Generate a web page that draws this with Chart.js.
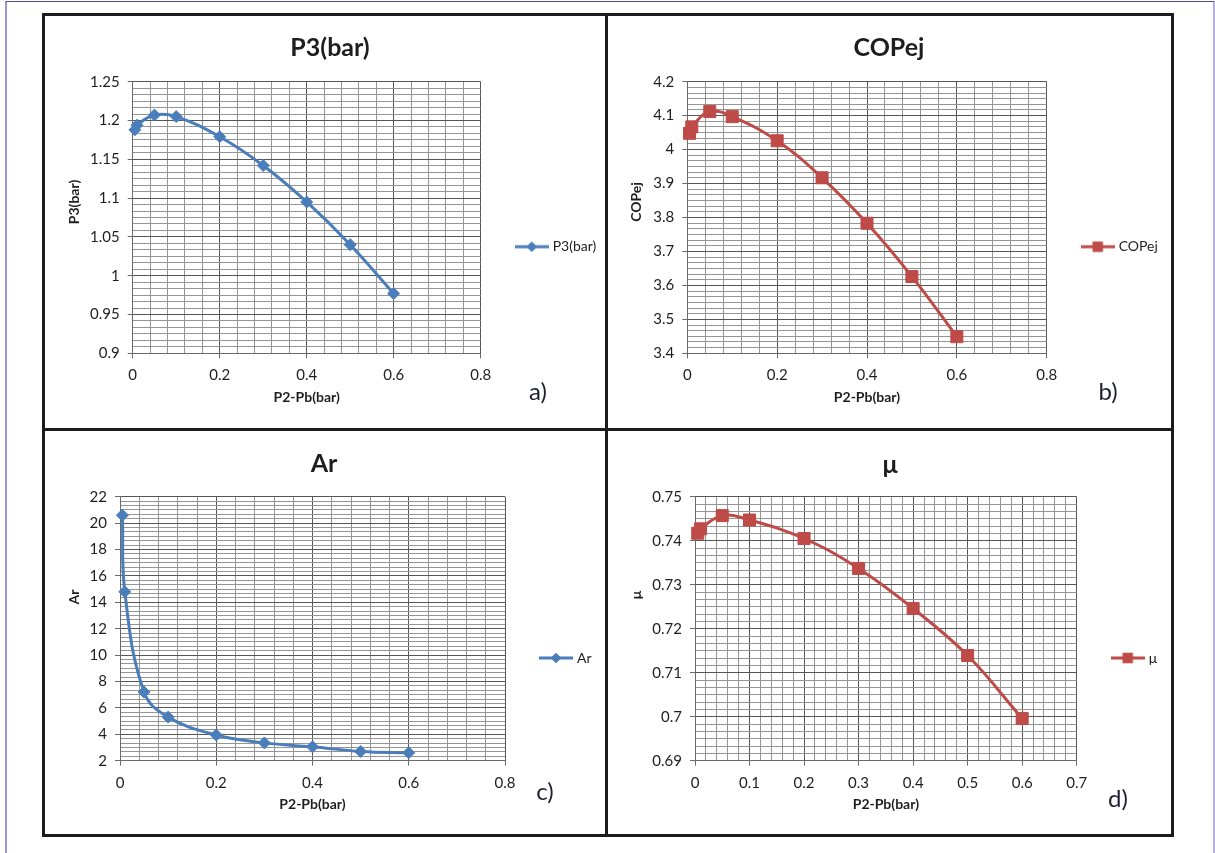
<!DOCTYPE html>
<html>
<head>
<meta charset="utf-8">
<script src="https://cdn.jsdelivr.net/npm/chart.js@4.4.1/dist/chart.umd.min.js"></script>
<style>
  body { margin: 0; width: 1215px; height: 853px; position: relative; background: #fff; overflow: hidden;
         font-family: Lato, "Open Sans", sans-serif; color: #1e1e1e; }
  canvas { position: absolute; }
  .box { position: absolute; }
  .t { position: absolute; transform: translate(-50%, -50%); white-space: nowrap; }
  .title { font-weight: bold; font-size: 25px; }
  .ytitle { font-weight: bold; font-size: 14px; transform: translate(-50%, -50%) rotate(-90deg); }
  .tag { font-size: 24px; color: #1f1f33; }
</style>
</head>
<body>
<canvas id="cA" width="558" height="411" style="left:46px;top:16px"></canvas>
<canvas id="cB" width="563" height="411" style="left:608px;top:16px"></canvas>
<canvas id="cC" width="558" height="403" style="left:46px;top:431px"></canvas>
<canvas id="cD" width="563" height="403" style="left:608px;top:431px"></canvas>

<div class="t title" style="left:330px;top:46px">P3(bar)</div>
<div class="t title" style="left:889px;top:46px">COPej</div>
<div class="t title" style="left:324px;top:462px">Ar</div>
<div class="t title" style="left:890px;top:463px">μ</div>

<div class="t ytitle" style="left:73px;top:202px">P3(bar)</div>
<div class="t ytitle" style="left:635px;top:202px">COPej</div>
<div class="t ytitle" style="left:73px;top:597px">Ar</div>
<div class="t ytitle" style="left:635px;top:595px">μ</div>

<div class="t tag" style="left:538px;top:390px">a)</div>
<div class="t tag" style="left:1108px;top:390px">b)</div>
<div class="t tag" style="left:545px;top:790px">c)</div>
<div class="t tag" style="left:1118px;top:797px">d)</div>

<!-- page frame -->
<div class="box" style="left:5px;top:1px;width:1206px;height:900px;border-top:1px solid #4b4b98;border-left:2px solid #9a96d0;border-right:2px solid #b3ade2"></div>
<div class="box" style="left:42px;top:13px;width:1126px;height:818px;border:3px solid #1c1c1c"></div>
<div class="box" style="left:604.5px;top:13px;width:3px;height:824px;background:#1c1c1c"></div>
<div class="box" style="left:42px;top:427.5px;width:1132px;height:3px;background:#1c1c1c"></div>

<script>
// shared x values: P2-Pb (bar)
const dp = [0.005, 0.01, 0.05, 0.1, 0.2, 0.3, 0.4, 0.5, 0.6];
const p3 = [1.188, 1.194, 1.207, 1.205, 1.179, 1.142, 1.095, 1.040, 0.977];
const copej = [4.048, 4.067, 4.112, 4.097, 4.026, 3.917, 3.783, 3.626, 3.449];
const ar = [20.6, 14.8, 7.2, 5.3, 3.95, 3.35, 3.05, 2.7, 2.6];
const mu = [0.7417, 0.7427, 0.7457, 0.7447, 0.7405, 0.7337, 0.7246, 0.7139, 0.6996];

// major tick labels
const xTicks8 = [0, 0.2, 0.4, 0.6, 0.8];
const xTicks7 = [0, 0.1, 0.2, 0.3, 0.4, 0.5, 0.6, 0.7];
const p3Ticks = [0.9, 0.95, 1, 1.05, 1.1, 1.15, 1.2, 1.25];
const copejTicks = [3.4, 3.5, 3.6, 3.7, 3.8, 3.9, 4, 4.1, 4.2];
const arTicks = [2, 4, 6, 8, 10, 12, 14, 16, 18, 20, 22];
const muTicks = [0.69, 0.7, 0.71, 0.72, 0.73, 0.74, 0.75];

const BLUE = '#4a7ebb';
const RED = '#be4b48';
const TEXT = '#1e1e1e';

Chart.defaults.font.family = 'Lato, "Open Sans", sans-serif';
Chart.defaults.color = TEXT;

// linear axis with minor grid lines between the labelled ticks
function axis(ticks, nMinor, extra) {
  const min = ticks[0], max = ticks[ticks.length - 1];
  const isMajor = i => i % nMinor === 0;
  return Object.assign({
    type: 'linear',
    min: min,
    max: max,
    afterBuildTicks: sc => {
      const n = (ticks.length - 1) * nMinor;
      sc.ticks = [];
      for (let i = 0; i <= n; i++) sc.ticks.push({ value: min + (max - min) * i / n });
    },
    ticks: {
      autoSkip: false, maxRotation: 0, padding: 8,
      font: { size: 15 }, color: TEXT,
      callback: (v, i) => isMajor(i) ? String(ticks[i / nMinor]) : ''
    },
    grid: {
      lineWidth: 1,
      tickLength: 5,
      color: c => isMajor(c.index) ? '#565656' : '#959595',
      tickColor: c => isMajor(c.index) ? '#6a6a6a' : 'rgba(0,0,0,0)'
    },
    border: { color: '#6a6a6a' }
  }, extra);
}

function swatch(color, style, radius) {
  const c = document.createElement('canvas');
  c.width = 34; c.height = 16;
  const g = c.getContext('2d');
  g.strokeStyle = color; g.lineWidth = 3;
  g.beginPath(); g.moveTo(0, 8); g.lineTo(34, 8); g.stroke();
  g.fillStyle = color; g.lineWidth = 1;
  Chart.helpers.drawPoint(g, { pointStyle: style, radius: radius, borderWidth: 1 }, 17, 8);
  return c;
}

function panel(id, L, label, values, color, style, radius, xTicks, yTicks) {
  const chart = new Chart(document.getElementById(id), {
    type: 'line',
    data: {
      datasets: [{
        label: label,
        data: dp.map((x, i) => ({ x: x, y: values[i] })),
        borderColor: color,
        backgroundColor: color,
        borderWidth: 3,
        pointStyle: style,
        pointRadius: radius,
        pointBorderWidth: 1,
        tension: 0.4,
        clip: false
      }]
    },
    options: {
      responsive: false,
      animation: false,
      events: [],
      layout: { padding: { left: 0, top: L.top, right: 0, bottom: L.pb } },
      plugins: {
        legend: {
          position: 'right',
          labels: {
            usePointStyle: true,
            pointStyle: swatch(color, style, radius * 0.8),
            pointStyleWidth: 28,
            padding: 37,
            font: { size: 14 },
            color: TEXT
          }
        },
        tooltip: { enabled: false }
      },
      scales: {
        x: axis(xTicks, 5, {
          position: 'bottom',
          afterFit: s => { s.height = L.xh; },
          title: { display: true, text: 'P2-Pb(bar)', color: TEXT,
                   font: { size: 14, weight: 'bold' }, padding: { top: 0, bottom: 6 } }
        }),
        y: axis(yTicks, 6, {
          position: 'left',
          afterFit: s => { s.width = L.yw; }
        })
      }
    }
  });
  // move the plot's right edge to where it sits in the figure
  chart.config.options.layout.padding.right = chart.chartArea.right - L.right;
  chart.update();
  return chart;
}

panel('cA', { top: 65.7, right: 434.7, pb: 15.3, xh: 58.4, yw: 86.7 },
      'P3(bar)', p3, BLUE, 'rectRot', 6, xTicks8, p3Ticks);
panel('cB', { top: 65.7, right: 438.7, pb: 15.3, xh: 58.4, yw: 79.3 },
      'COPej', copej, RED, 'rect', 8.5, xTicks8, copejTicks);
panel('cC', { top: 65.7, right: 459, pb: 14.7, xh: 58.6, yw: 74 },
      'Ar', ar, BLUE, 'rectRot', 6, xTicks8, arTicks);
panel('cD', { top: 65.7, right: 468.7, pb: 14.7, xh: 58.6, yw: 87 },
      'μ', mu, RED, 'rect', 8.5, xTicks7, muTicks);
</script>
</body>
</html>
